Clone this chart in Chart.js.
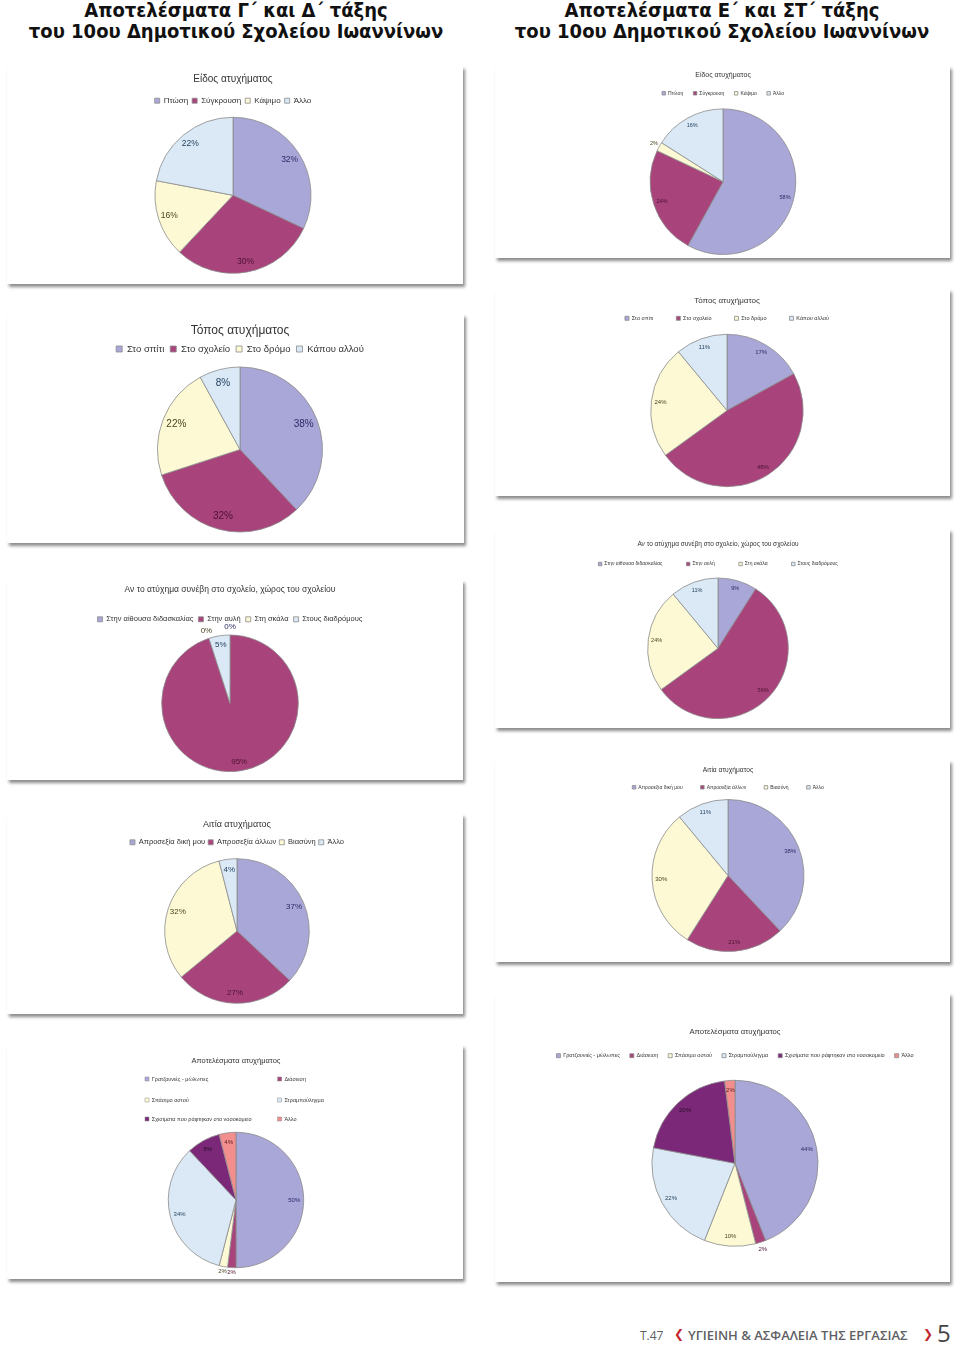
<!DOCTYPE html>
<html lang="el">
<head>
<meta charset="utf-8">
<title>Αποτελέσματα ατυχημάτων</title>
<script src="https://cdn.jsdelivr.net/npm/chart.js@4.4.1/dist/chart.umd.min.js"></script>
<style>
  html, body { margin: 0; padding: 0; background: #fff; }
  body { width: 960px; height: 1350px; position: relative; overflow: hidden; }
  .head { position: absolute; top: 0; width: 480px; text-align: center; color: #111;
          font-family: 'DejaVu Sans Condensed', 'DejaVu Sans', sans-serif; font-stretch: condensed;
          font-weight: bold; font-size: 20px; line-height: 21px; }
  .panel { position: absolute; background: #fff; box-shadow: 2px 3px 3px rgba(0,0,0,0.45); }
  .panel canvas { position: absolute; top: 0; }
  .ft { position: absolute; white-space: nowrap; font-family: 'Open Sans', sans-serif; color: #606064; }
  .ft.ar { color: #c4262e; font-family: 'DejaVu Sans', sans-serif; font-weight: bold; }
</style>
</head>
<body>
<div class="head" style="left:-4px">Αποτελέσματα Γ΄ και Δ΄ τάξης<br>του 10ου Δημοτικού Σχολείου Ιωαννίνων</div>
<div class="head" style="left:482px">Αποτελέσματα Ε΄ και ΣΤ΄ τάξης<br>του 10ου Δημοτικού Σχολείου Ιωαννίνων</div>

<div class="ft" style="left:640px; top:1327px; font-size:12px;">Τ.47</div>
<div class="ft ar" style="left:674px; top:1327px; font-size:12px;">❮</div>
<div class="ft" style="left:688px; top:1326px; font-size:13px; font-weight:600;">ΥΓΙΕΙΝΗ &amp; ΑΣΦΑΛΕΙΑ ΤΗΣ ΕΡΓΑΣΙΑΣ</div>
<div class="ft ar" style="left:923px; top:1327px; font-size:12px;">❯</div>
<div class="ft" style="left:937px; top:1316px; font-size:24px; color:#444;">5</div>

<script>
// Γ΄-Δ΄ (GD) and Ε΄-ΣΤ΄ (EST) results, percent
var typeLabels = ['Πτώση', 'Σύγκρουση', 'Κάψιμο', 'Άλλο'];
var typeGD = [32, 30, 16, 22];
var typeEST = [58, 24, 2, 16];

var placeLabels = ['Στο σπίτι', 'Στο σχολείο', 'Στο δρόμο', 'Κάπου αλλού'];
var placeGD = [38, 32, 22, 8];
var placeEST = [17, 48, 24, 11];

var schoolLabels = ['Στην αίθουσα διδασκαλίας', 'Στην αυλή', 'Στη σκάλα', 'Στους διαδρόμους'];
var schoolGD = [0, 95, 0, 5];
var schoolEST = [9, 56, 24, 11];

var causeLabels = ['Απροσεξία δική μου', 'Απροσεξία άλλων', 'Βιασύνη', 'Άλλο'];
var causeGD = [37, 27, 32, 4];
var causeEST = [38, 21, 30, 11];

var resultLabels = ['Γρατζουνιές - μώλωπες', 'Διάσειση', 'Σπάσιμο οστού', 'Στραμπούληγμα', 'Σχισίματα που ράφτηκαν στο νοσοκομείο', 'Άλλο'];
var resultGD = [50, 2, 2, 34, 8, 4];
var resultEST = [44, 2, 10, 22, 20, 2];

(function () {
  'use strict';

  var FILLS = ['#a9a7d8', '#a8437b', '#fcf9d4', '#dae9f5', '#7b2878', '#f28e8e'];
  var INKS = ['#2b2a66', '#4d1233', '#4a4622', '#1f3d5c', '#2a0f2a', '#5a1f1f'];
  var TEXT = '#333333';

  Chart.defaults.font.family = "'Liberation Sans', Arial, sans-serif";
  Chart.defaults.color = TEXT;

  // percent labels, placed along each slice's mid angle
  var pctLabels = {
    id: 'pctLabels',
    afterDatasetsDraw: function (chart, args, opts) {
      var ctx = chart.ctx;
      var meta = chart.getDatasetMeta(0);
      var data = chart.data.datasets[0].data;
      ctx.save();
      ctx.font = opts.size + "px 'Liberation Sans', Arial, sans-serif";
      ctx.textAlign = 'center';
      ctx.textBaseline = 'middle';
      meta.data.forEach(function (arc, i) {
        var p = arc.getProps(['x', 'y', 'startAngle', 'endAngle', 'outerRadius'], true);
        var mid = (p.startAngle + p.endAngle) / 2;
        var out = (opts.outside || []).indexOf(i) >= 0;
        var d = out ? p.outerRadius + opts.gap : p.outerRadius * opts.ratio;
        ctx.fillStyle = INKS[i];
        ctx.fillText(data[i] + '%', p.x + Math.cos(mid) * d, p.y + Math.sin(mid) * d);
      });
      ctx.restore();
    }
  };

  // two-column legend (the Chart.js legend only flows in rows)
  var gridLegend = {
    id: 'gridLegend',
    afterDraw: function (chart, args, opts) {
      var ctx = chart.ctx;
      var ds = chart.data.datasets[0];
      var b = opts.box;
      ctx.save();
      ctx.font = opts.size + "px 'Liberation Sans', Arial, sans-serif";
      ctx.textAlign = 'left';
      ctx.textBaseline = 'middle';
      ctx.lineWidth = 0.5;
      chart.data.labels.forEach(function (lab, i) {
        var x = chart.width / 2 + opts.cols[i % opts.cols.length];
        var y = opts.rows[Math.floor(i / opts.cols.length)];
        ctx.fillStyle = ds.backgroundColor[i];
        ctx.fillRect(x, y - b / 2, b, b);
        ctx.strokeStyle = '#8c8c8c';
        ctx.strokeRect(x, y - b / 2, b, b);
        ctx.fillStyle = TEXT;
        ctx.fillText(lab, x + b + opts.size / 2, y);
      });
      ctx.restore();
    }
  };

  var panels = [
    { box: [7, 66, 456, 218], cx: 232.5, cy: 195.3, r: 78, labels: typeLabels, values: typeGD,
      title: { text: 'Είδος ατυχήματος', size: 10, y: 79 },
      legend: { size: 8, box: 5, pad: 4, y: 100.7 }, pct: { size: 8.5, ratio: 0.86 } },
    { box: [7, 314, 457, 229], cx: 239.5, cy: 449.5, r: 82.5, labels: placeLabels, values: placeGD,
      title: { text: 'Τόπος ατυχήματος', size: 12, y: 330.7 },
      legend: { size: 9.5, box: 6, pad: 6, y: 349 }, pct: { size: 10, ratio: 0.83 } },
    { box: [7, 580, 456, 200], cx: 230, cy: 703.3, r: 68.3, labels: schoolLabels, values: schoolGD,
      title: { text: 'Αν το ατύχημα συνέβη στο σχολείο, χώρος του σχολείου', size: 8.5, y: 590 },
      legend: { size: 7.5, box: 5, pad: 5, y: 619.3 }, pct: { size: 8, ratio: 0.86, outside: [0, 2], gap: 8 } },
    { box: [7, 814, 456, 200], cx: 236.7, cy: 931, r: 72.3, labels: causeLabels, values: causeGD,
      title: { text: 'Αιτία ατυχήματος', size: 9, y: 825 },
      legend: { size: 7.5, box: 5, pad: 3, y: 842.3 }, pct: { size: 8, ratio: 0.86 } },
    { box: [7, 1045, 456, 234], cx: 236, cy: 1200, r: 67.7, labels: resultLabels, values: resultGD,
      title: { text: 'Αποτελέσματα ατυχήματος', size: 7.5, y: 1060.7 },
      grid: { size: 5.5, box: 4, cols: [-91, 41.7], rows: [34, 55, 74], areaTop: 82 },
      pct: { size: 6, ratio: 0.86, outside: [1, 2], gap: 4.5 } },

    { box: [495, 66, 455, 192], cx: 722.8, cy: 181.7, r: 72.8, labels: typeLabels, values: typeEST,
      title: { text: 'Είδος ατυχήματος', size: 7, y: 75 },
      legend: { size: 5, box: 3.5, pad: 10, y: 93.3 }, pct: { size: 5.5, ratio: 0.88, outside: [2], gap: 6 } },
    { box: [495, 289, 455, 207], cx: 727, cy: 410.5, r: 76.2, labels: placeLabels, values: placeEST,
      title: { text: 'Τόπος ατυχήματος', size: 8, y: 300.7 },
      legend: { size: 5.5, box: 4, pad: 23, y: 318.3 }, pct: { size: 6, ratio: 0.88 } },
    { box: [495, 529, 455, 199], cx: 717.8, cy: 648.3, r: 70.3, labels: schoolLabels, values: schoolEST,
      title: { text: 'Αν το ατύχημα συνέβη στο σχολείο, χώρος του σχολείου', size: 6.5, y: 544 },
      legend: { size: 5, box: 3.5, pad: 24, y: 564 }, pct: { size: 5.5, ratio: 0.88 } },
    { box: [495, 760, 455, 202], cx: 728.3, cy: 875.5, r: 76, labels: causeLabels, values: causeEST,
      title: { text: 'Αιτία ατυχήματος', size: 6.7, y: 770 },
      legend: { size: 5, box: 3.5, pad: 18, y: 787.3 }, pct: { size: 6, ratio: 0.88 } },
    { box: [495, 993, 455, 289], cx: 735.3, cy: 1163.3, r: 83, labels: resultLabels, values: resultEST,
      title: { text: 'Αποτελέσματα ατυχήματος', size: 7.7, y: 1031.7 },
      legend: { size: 5.5, box: 4, pad: 10, y: 1055.7 }, pct: { size: 6, ratio: 0.88, outside: [1], gap: 7 } }
  ];

  function makePanel(p) {
    var bx = p.box[0], by = p.box[1], bw = p.box[2], bh = p.box[3];
    var div = document.createElement('div');
    div.className = 'panel';
    div.style.left = bx + 'px';
    div.style.top = by + 'px';
    div.style.width = bw + 'px';
    div.style.height = bh + 'px';
    document.body.appendChild(div);

    // canvas centred on the pie so title, legend and pie share one axis
    var hw = Math.floor(Math.min(p.cx - bx, bx + bw - p.cx)) - 1;
    var left = Math.round(p.cx - hw - bx);
    var canvas = document.createElement('canvas');
    canvas.width = 2 * hw;
    canvas.height = bh;
    canvas.style.left = left + 'px';
    div.appendChild(canvas);

    var cyRel = p.cy - by;
    var ts = p.title.size;
    var tY = p.title.y - by;
    var tpt = tY - 0.6 * ts;
    var tpb, areaTop;
    if (p.grid) {
      areaTop = p.grid.areaTop;
      tpb = areaTop - (tY + 0.6 * ts);
    } else {
      var itemH = Math.max(p.legend.size, p.legend.box);
      var lY = p.legend.y - by;
      tpb = lY - itemH / 2 - p.legend.pad - (tY + 0.6 * ts);
      areaTop = lY + itemH / 2 + 10;
    }
    var padBottom = bh - (2 * cyRel - areaTop);

    var plugins = [pctLabels];
    if (p.grid) plugins.push(gridLegend);

    var colors = FILLS.slice(0, p.values.length);

    return new Chart(canvas.getContext('2d'), {
      type: 'pie',
      data: {
        labels: p.labels,
        datasets: [{
          data: p.values,
          backgroundColor: colors,
          borderColor: '#8c8c8c',
          borderWidth: 0.8,
          radius: p.r,
          clip: false
        }]
      },
      plugins: plugins,
      options: {
        responsive: false,
        animation: false,
        devicePixelRatio: 1,
        layout: { padding: { top: 0, left: 0, right: 0, bottom: padBottom } },
        plugins: {
          title: {
            display: true,
            text: p.title.text,
            color: TEXT,
            font: { size: ts, weight: 'normal', lineHeight: 1.2 },
            padding: { top: tpt, bottom: tpb }
          },
          legend: p.grid ? { display: false } : {
            display: true,
            position: 'top',
            labels: {
              color: TEXT,
              font: { size: p.legend.size },
              boxWidth: p.legend.box,
              boxHeight: p.legend.box,
              padding: p.legend.pad
            }
          },
          tooltip: { enabled: false },
          pctLabels: p.pct,
          gridLegend: p.grid || {}
        }
      }
    });
  }

  panels.forEach(makePanel);
})();
</script>
</body>
</html>
